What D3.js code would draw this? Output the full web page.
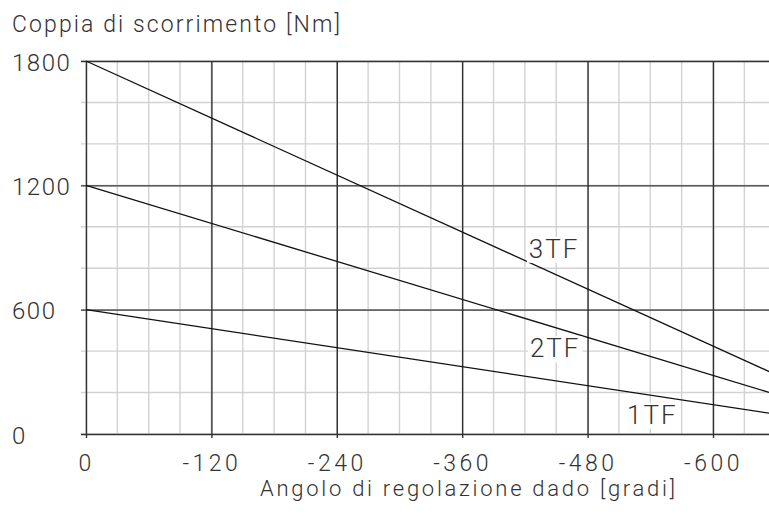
<!DOCTYPE html>
<html>
<head>
<meta charset="utf-8">
<script src="https://cdn.jsdelivr.net/npm/d3@7"></script>
<style>
  html, body { margin: 0; padding: 0; background: #fff; }
  svg { display: block; }
  text { font-family: Roboto, "DejaVu Sans", sans-serif; font-weight: 300; fill: #333; }
</style>
</head>
<body>
<svg id="chart" width="769" height="516"></svg>
<script>
// ---- data ----
const angleTicks = [0, -120, -240, -360, -480, -600];
const torqueTicks = [0, 600, 1200, 1800];
const angles = [0, -660];
const series3TF = [1800, 287];
const series2TF = [1200, 191];
const series1TF = [600, 96];
const seriesNames = ["3TF", "2TF", "1TF"];
const labelAngles = [-448, -449, -542];
const labelTorques = [894, 414, 92];
const yTitle = "Coppia di scorrimento [Nm]";
const xTitle = "Angolo di regolazione dado [gradi]";

const FONT = "Roboto, 'DejaVu Sans', sans-serif";
const svg = d3.select("#chart");
const x = d3.scaleLinear().domain([0, -660]).range([86, 775.7]);
const y = d3.scaleLinear().domain([0, 1800]).range([434, 61]);

const minorX = d3.range(0, -661, -30);
const minorY = d3.range(0, 1801, 200);

// minor grid
svg.append("g").selectAll("line").data(minorX).join("line")
  .attr("x1", d => x(d)).attr("x2", d => x(d))
  .attr("y1", y(0)).attr("y2", y(1800))
  .attr("stroke", "#d2d2d2").attr("stroke-width", 1.4);
svg.append("g").selectAll("line").data(minorY).join("line")
  .attr("x1", 81).attr("x2", 769)
  .attr("y1", d => y(d)).attr("y2", d => y(d))
  .attr("stroke", "#d2d2d2").attr("stroke-width", 1.4);

// major grid via axes
const xAxis = d3.axisBottom(x).tickValues(angleTicks)
  .tickSize(-(y(0) - y(1800))).tickSizeOuter(0)
  .tickFormat(d => d === 0 ? "0" : "-" + Math.abs(d));
const gx = svg.append("g").attr("transform", `translate(0,${y(0)})`).call(xAxis);
gx.select(".domain").remove();
gx.selectAll(".tick line").attr("y1", 4).attr("y2", -(y(0) - y(1800)))
  .attr("stroke", "#333").attr("stroke-width", 1.4);
gx.selectAll(".tick text").attr("y", 37).attr("dy", null)
  .style("font-size", "23px").style("letter-spacing", "3.5px")
  .attr("fill", "#333").style("font-family", FONT);

const yAxis = d3.axisLeft(y).tickValues(torqueTicks).tickSizeOuter(0)
  .tickSize(-(769 - 86)).tickFormat(d3.format("d"));
const gy = svg.append("g").attr("transform", `translate(86,0)`).call(yAxis);
gy.select(".domain").remove();
gy.selectAll(".tick line").attr("x1", -5).attr("x2", 769 - 86)
  .attr("stroke", "#333").attr("stroke-width", 1.4);
gy.selectAll(".tick text").attr("x", 12 - 86).attr("dy", "9px")
  .attr("text-anchor", "start")
  .style("font-size", "24px").style("letter-spacing", "1.5px")
  .attr("fill", "#333").style("font-family", FONT);

// series lines
const allSeries = [series3TF, series2TF, series1TF];
const line = d3.line().x((d, i) => x(angles[i])).y(d => y(d));
svg.append("g").selectAll("path").data(allSeries).join("path")
  .attr("d", d => line(d)).attr("fill", "none")
  .attr("stroke", "#111").attr("stroke-width", 1.3);

// series labels with white background
const lg = svg.append("g");
seriesNames.forEach((name, i) => {
  const g = lg.append("g");
  const t = g.append("text")
    .attr("x", x(labelAngles[i])).attr("y", y(labelTorques[i]))
    .attr("dy", "0.35em").attr("text-anchor", "middle")
    .style("font-size", "26px").style("letter-spacing", "2px")
    .text(name);
  const b = t.node().getBBox();
  g.insert("rect", "text").attr("x", b.x - 2).attr("y", b.y + 3)
    .attr("width", b.width + 4).attr("height", b.height - 4).attr("fill", "#fff");
});

// titles
svg.append("text").attr("x", 12).attr("y", 32)
  .attr("textLength", 328).attr("lengthAdjust", "spacing")
  .style("font-size", "23px").text(yTitle);
svg.append("text").attr("x", 260).attr("y", 496)
  .attr("textLength", 415).attr("lengthAdjust", "spacing")
  .style("font-size", "22px").text(xTitle);
</script>
</body>
</html>
